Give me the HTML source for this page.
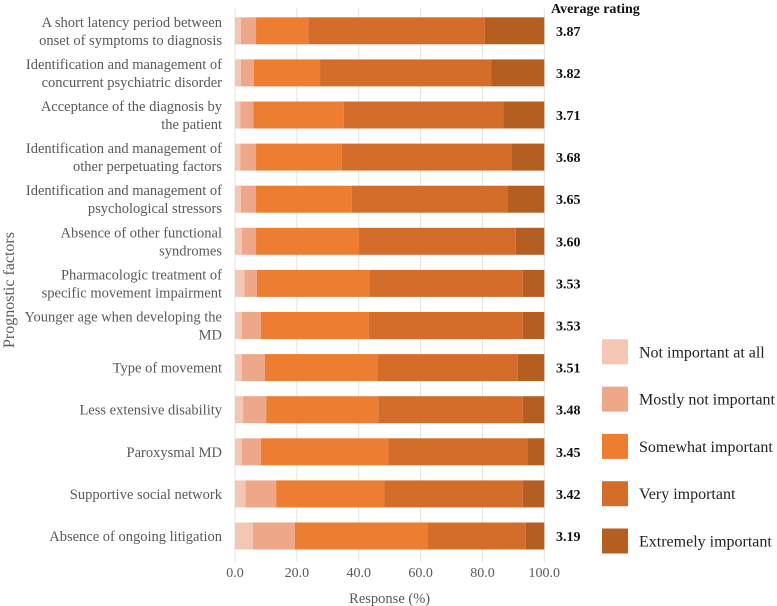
<!DOCTYPE html>
<html><head><meta charset="utf-8"><style>
body{margin:0;background:#fff;width:777px;height:606px;overflow:hidden}
svg{display:block}
svg text{font-family:"Liberation Serif","Times New Roman",serif}
</style></head><body>
<svg id="c" width="777" height="606"></svg>
<script>
const categories=["A short latency period between|onset of symptoms to diagnosis","Identification and management of|concurrent psychiatric disorder","Acceptance of the diagnosis by|the patient","Identification and management of|other perpetuating factors","Identification and management of|psychological stressors","Absence of other functional|syndromes","Pharmacologic treatment of|specific movement impairment","Younger age when developing the|MD","Type of movement","Less extensive disability","Paroxysmal MD","Supportive social network","Absence of ongoing litigation"];
const notImportant=[1.9,1.9,1.7,1.7,1.9,2.2,3.0,2.2,2.2,2.6,2.2,3.4,5.8];
const mostlyNot=[4.9,4.2,4.2,5.1,4.9,4.6,4.1,6.2,7.5,7.5,6.2,9.9,13.6];
const somewhat=[16.9,21.4,29.3,27.7,31.0,33.3,36.4,34.9,36.4,36.2,41.2,34.9,42.8];
const very=[57.1,55.3,51.5,54.8,50.2,50.7,49.5,49.7,45.3,46.7,45.0,44.8,31.8];
const extremely=[19.2,17.2,13.3,10.7,12.0,9.2,7.0,7.0,8.6,7.0,5.4,7.0,6.0];
const ratings=["3.87","3.82","3.71","3.68","3.65","3.60","3.53","3.53","3.51","3.48","3.45","3.42","3.19"];
const seriesNames=["Not important at all","Mostly not important","Somewhat important","Very important","Extremely important"];
const xTicks=[0,20,40,60,80,100];
const colors=["#F4C7B5","#EFA78A","#ED7D31","#D46D2A","#B45E22"];
const NS="http://www.w3.org/2000/svg",svg=document.getElementById('c');
const FF='"Liberation Serif", serif';
const x=v=>235+v*3.093, rowY=i=>17.3+i*42.1, BH=27;
function el(t,a,p){const e=document.createElementNS(NS,t);for(const k in a)e.setAttribute(k,a[k]);if(t==='text')e.setAttribute('font-family',FF);(p||svg).appendChild(e);return e;}
xTicks.forEach(t=>{
  const g=el('line',{x1:x(t),x2:x(t),y1:8,y2:562,stroke:'#e3e3e3','stroke-width':1});
  
  
  const tl=el('text',{x:x(t),y:577,'text-anchor':'middle','font-size':14,fill:'#595959'});tl.textContent=t.toFixed(1);
  
  
});
const series=[notImportant,mostlyNot,somewhat,very,extremely];
categories.forEach((c,i)=>{
  let acc=0;const y=rowY(i);
  series.forEach((s,k)=>{
    const r=el('rect',{x:x(acc),y:y,width:x(acc+s[i])-x(acc),height:BH,fill:colors[k]});
    
    
    acc+=s[i];
  });
  const lines=c.split('|');
  lines.forEach((ln,j)=>{
    const t=el('text',{x:222,y:y+BH/2+5+(lines.length>1?(j-0.5)*18:0),'text-anchor':'end','font-size':14.5,fill:'#595959'});t.textContent=ln;
    
    
  });
  const rv=el('text',{x:556,y:y+BH/2+5,'font-size':14,'font-weight':'bold',fill:'#111'});rv.textContent=ratings[i];
  
  
});
const h=el('text',{x:551,y:13,'font-size':14,'font-weight':'bold',fill:'#111'});h.textContent='Average rating';


const xt=el('text',{x:x(50),y:603,'text-anchor':'middle','font-size':14.5,fill:'#595959'});xt.textContent='Response (%)';


const yt=el('text',{x:0,y:0,transform:'translate(14,290) rotate(-90)','text-anchor':'middle','font-size':16,fill:'#595959'});yt.textContent='Prognostic factors';


seriesNames.forEach((n,k)=>{
  const y=339.3+k*47.3;
  const r=el('rect',{x:602,y:y,width:26,height:25,fill:colors[k]});
  
  
  const t=el('text',{x:639,y:y+18,'font-size':16,fill:'#222'});t.textContent=n;
  
  
});
</script>
</body></html>
